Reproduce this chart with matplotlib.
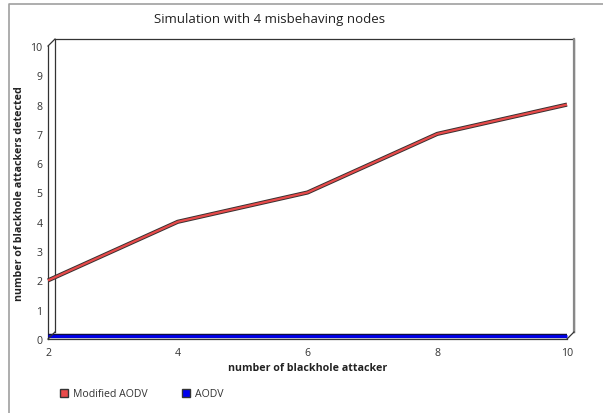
import numpy as np
import matplotlib.pyplot as plt
import matplotlib.transforms as mtransforms
import matplotlib.patheffects as pe
from matplotlib import font_manager
from matplotlib.lines import Line2D
from matplotlib.patches import Patch

plt.rcParams["font.family"] = ["Open Sans", "DejaVu Sans"]

# data
attackers = [2, 4, 6, 8, 10]
modified_aodv = [2, 4, 5, 7, 8]
aodv = [0, 0, 0, 0, 0]

# pick a real bold face for the axis labels
bold_file = None
for want in ["opensans-bold.ttf", "liberationsans-bold.ttf"]:
    for f in font_manager.findSystemFonts():
        if f.lower().endswith(want):
            bold_file = f
            break
    if bold_file:
        break
if bold_file:
    bold_fp = font_manager.FontProperties(fname=bold_file, size=7.7)
else:
    bold_fp = font_manager.FontProperties(family="DejaVu Sans", weight="bold", size=6.3)

W, H = 603, 414
fig = plt.figure(figsize=(W / 100, H / 100), dpi=100)

# front plane of the pseudo-3d plot, in pixels
x0, x1 = 48, 567
y0, y1 = 340, 47
ax = fig.add_axes([x0 / W, (H - y0) / H, (x1 - x0) / W, (y0 - y1) / H])
ax.set_xlim(2, 10)
ax.set_ylim(0, 10)
for s in ax.spines.values():
    s.set_visible(False)
ax.patch.set_alpha(0)

depth = 7  # px offset of the back wall
back = ax.transAxes + mtransforms.ScaledTranslation(depth / 100, depth / 100, fig.dpi_scale_trans)
edge = "#333333"
# back wall
ax.plot([0, 0, 1, 1], [0, 1, 1, 0], transform=back, color=edge, lw=0.9, clip_on=False)
ax.plot([1, 1], [0, 1], transform=back, color="#888888", lw=1.6, clip_on=False)
# front left / bottom edges
ax.plot([0, 0], [0, 1], transform=ax.transAxes, color=edge, lw=0.9, clip_on=False)
ax.plot([0, 1], [0, 0], transform=ax.transAxes, color=edge, lw=0.9, clip_on=False)
# depth diagonals
for px, py in [(0, 1), (0, 0), (1, 0)]:
    p_front = ax.transAxes.transform((px, py))
    p_back = back.transform((px, py))
    fig.add_artist(Line2D([p_front[0] / W, p_back[0] / W], [p_front[1] / H, p_back[1] / H],
                          transform=fig.transFigure, color=edge, lw=0.9))

# series
red = "#e84a4a"
blue = "#0000ee"
ax.plot(attackers, modified_aodv, color=red, lw=1.6, clip_on=False, solid_capstyle="butt",
        path_effects=[pe.Stroke(linewidth=3.0, foreground="#3a3030"), pe.Normal()])
floor = ax.transData + mtransforms.ScaledTranslation(0, 3.5 / 100, fig.dpi_scale_trans)
ax.plot(attackers, aodv, color=blue, lw=2.0, clip_on=False, transform=floor, solid_capstyle="butt",
        path_effects=[pe.Stroke(linewidth=3.2, foreground="#101040"), pe.Normal()])

ax.set_xticks(attackers)
ax.set_yticks(range(0, 11))
ax.tick_params(length=0, labelsize=7.6, colors="#333333", pad=4)
ax.tick_params(axis="x", pad=6)
ax.set_xlabel("number of blackhole attacker", labelpad=3, fontproperties=bold_fp, color="#222222")
ax.set_ylabel("number of blackhole attackers detected", labelpad=4, fontproperties=bold_fp, color="#222222")

fig.text(270 / W, 1 - 20 / H, "Simulation with 4 misbehaving nodes", ha="center", va="center",
         fontsize=9.5, color="#222222")

# outer border
fig.add_artist(Line2D([9 / W, 9 / W, 1], [0, 1 - 5 / H, 1 - 5 / H], transform=fig.transFigure,
                      color="#a0a0a0", lw=1.2))

handles = [Patch(facecolor=red, edgecolor="#333333", label="Modified AODV"),
           Patch(facecolor=blue, edgecolor="#333333", label="AODV")]
fig.legend(handles=handles, loc="center left", bbox_to_anchor=(50 / W, 1 - 395 / H), ncol=2,
           frameon=False, fontsize=7.6, handlelength=0.8, handleheight=0.8, handletextpad=0.5,
           columnspacing=3.2, labelcolor="#333333")

fig.savefig("out.png", dpi=100)
